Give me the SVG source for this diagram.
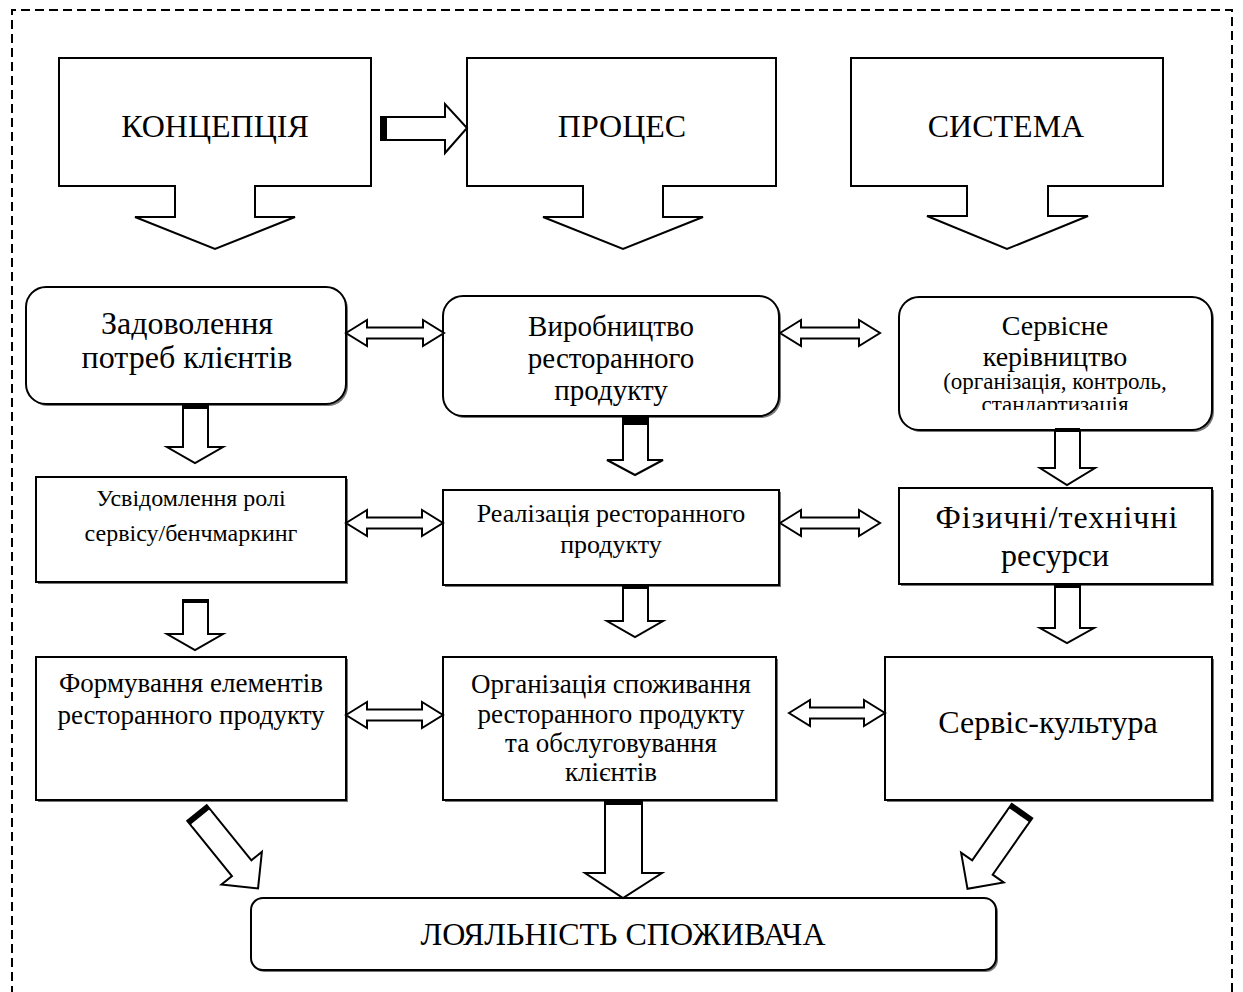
<svg xmlns="http://www.w3.org/2000/svg" width="1243" height="992" viewBox="0 0 1243 992">
<style>
  .t{font-family:"Liberation Serif","Times New Roman",serif;fill:#000;text-anchor:middle}
  .big{font-size:32px}
  .r1{font-size:29px}
  .m{font-size:32px}
  .sv{font-size:28px}
  .sv2{font-size:23px}
  .s{font-size:24px}
  .s3{font-size:26px}
  .s2{font-size:27px}
  .box{fill:#fff;stroke:#000;stroke-width:2}
  .sh{fill:#777;stroke:none}
  .arr{fill:#fff;stroke:#000;stroke-width:2;stroke-linejoin:miter}
  .bar{fill:#000}
  .wl{stroke:#fff;stroke-width:1.2}
</style>
<defs>
  <clipPath id="cpServ"><rect x="900" y="298" width="310" height="112"/></clipPath>
</defs>
<rect x="0" y="0" width="1243" height="992" fill="#fff"/>
<path d="M12,995 V10 H1232 V995" fill="none" stroke="#000" stroke-width="2" stroke-dasharray="9,5"/>

<g id="koncepcia">
  <path class="box" d="M59,58 H371 V186 H255 V217 H295 L215,249 L135,217 H175 V186 H59 Z"/>
  <text class="t big" x="215" y="137">КОНЦЕПЦІЯ</text>
</g>
<g id="proces">
  <path class="box" d="M467,58 H776 V186 H663 V217 H703 L623,249 L543,217 H583 V186 H467 Z"/>
  <text class="t big" x="622" y="137">ПРОЦЕС</text>
</g>
<g id="systema">
  <path class="box" d="M851,58 H1163 V186 H1048 V216 H1088 L1007,249 L927,216 H967 V186 H851 Z"/>
  <text class="t big" x="1006" y="137">СИСТЕМА</text>
</g>

<g id="n-zadovolennia">
  <rect class="sh" x="28" y="289" width="320" height="117" rx="20"/>
  <rect class="box" x="26" y="287" width="320" height="117" rx="20"/>
  <text class="t m" x="187" y="334">Задоволення</text>
  <text class="t m" x="187" y="368">потреб клієнтів</text>
</g>
<g id="n-vyrobnytstvo">
  <rect class="sh" x="445" y="298" width="336" height="120" rx="20"/>
  <rect class="box" x="443" y="296" width="336" height="120" rx="20"/>
  <text class="t r1" x="611" y="336">Виробництво</text>
  <text class="t r1" x="611" y="368">ресторанного</text>
  <text class="t r1" x="611" y="400">продукту</text>
</g>
<g id="n-servisne">
  <rect class="sh" x="901" y="299" width="313" height="133" rx="20"/>
  <rect class="box" x="899" y="297" width="313" height="133" rx="20"/>
  <text class="t sv" x="1055" y="335">Сервісне</text>
  <text class="t sv" x="1055" y="366">керівництво</text>
  <text class="t sv2" x="1055" y="389">(організація, контроль,</text>
  <text class="t sv2" x="1055" y="412" clip-path="url(#cpServ)">стандартизація</text>
</g>

<g id="n-usvidomlennia">
  <rect class="sh" x="38" y="479" width="310" height="105"/>
  <rect class="box" x="36" y="477" width="310" height="105"/>
  <text class="t s" x="191" y="506">Усвідомлення ролі</text>
  <text class="t s" x="191" y="541">сервісу/бенчмаркинг</text>
</g>
<g id="n-realizatsia">
  <rect class="sh" x="445" y="492" width="336" height="95"/>
  <rect class="box" x="443" y="490" width="336" height="95"/>
  <text class="t s3" x="611" y="522">Реалізація ресторанного</text>
  <text class="t s3" x="611" y="553">продукту</text>
</g>
<g id="n-fizychni">
  <rect class="sh" x="901" y="490" width="313" height="96"/>
  <rect class="box" x="899" y="488" width="313" height="96"/>
  <text class="t m" x="1057" y="528" letter-spacing="1">Фізичні/технічні</text>
  <text class="t m" x="1055" y="566">ресурси</text>
</g>

<g id="n-formuvannia">
  <rect class="sh" x="38" y="659" width="310" height="143"/>
  <rect class="box" x="36" y="657" width="310" height="143"/>
  <text class="t s2" x="191" y="692">Формування елементів</text>
  <text class="t s2" x="191" y="724">ресторанного продукту</text>
</g>
<g id="n-organizatsia">
  <rect class="sh" x="445" y="659" width="333" height="143"/>
  <rect class="box" x="443" y="657" width="333" height="143"/>
  <text class="t s2" x="611" y="693">Організація споживання</text>
  <text class="t s2" x="611" y="723">ресторанного продукту</text>
  <text class="t s2" x="611" y="752">та обслуговування</text>
  <text class="t s2" x="611" y="781">клієнтів</text>
</g>
<g id="n-servis-kultura">
  <rect class="sh" x="887" y="659" width="327" height="143"/>
  <rect class="box" x="885" y="657" width="327" height="143"/>
  <text class="t m" x="1048" y="733">Сервіс-культура</text>
</g>

<g id="n-loyalnist">
  <rect class="sh" x="253" y="900" width="745" height="72" rx="12"/>
  <rect class="box" x="251" y="898" width="745" height="72" rx="12"/>
  <text class="t big" x="623" y="945" font-size="33">ЛОЯЛЬНІСТЬ СПОЖИВАЧА</text>
</g>

<g id="connectors">
  <polygon class="arr" points="381,117 445,117 445,104 467,128 445,153 445,140 381,140"/>
  <rect class="bar" x="381" y="116" width="6" height="25"/>

  <polygon class="arr" points="346,333 367,320 367,327.5 423,327.5 423,320 444,333 423,346 423,338.5 367,338.5 367,346"/>
  <polygon class="arr" points="780,333 801,320 801,327.5 859,327.5 859,320 880,333 859,346 859,338.5 801,338.5 801,346"/>
  <polygon class="arr" points="346,523 367,510 367,517.5 422,517.5 422,510 443,523 422,536 422,528.5 367,528.5 367,536"/>
  <polygon class="arr" points="780,523 801,510 801,517.5 859,517.5 859,510 880,523 859,536 859,528.5 801,528.5 801,536"/>
  <polygon class="arr" points="346,715 367,702 367,709.5 422,709.5 422,702 443,715 422,728 422,720.5 367,720.5 367,728"/>
  <polygon class="arr" points="789,713 810,700 810,707.5 864,707.5 864,700 885,713 864,726 864,718.5 810,718.5 810,726"/>

  <polygon class="arr" points="183,404 208,404 208,447 223,447 195,463 167,447 183,447"/>
  <rect class="bar" x="183" y="404" width="25" height="5"/>
  <line class="wl" x1="184" y1="410.5" x2="207" y2="410.5"/>

  <polygon class="arr" points="623,416 648,416 648,460 663,460 635,475 607,460 623,460"/>
  <rect class="bar" x="623" y="416" width="25" height="9"/>

  <polygon class="arr" points="1055,430 1080,430 1080,468 1095,468 1067,485 1040,468 1055,468"/>
  <rect class="bar" x="1055" y="428" width="25" height="4"/>
  <line class="wl" x1="1056" y1="434" x2="1079" y2="434"/>

  <polygon class="arr" points="183,600 208,600 208,634 223,634 195,650 167,634 183,634"/>
  <rect class="bar" x="183" y="599" width="25" height="4"/>
  <line class="wl" x1="184" y1="605" x2="207" y2="605"/>

  <polygon class="arr" points="623,585 648,585 648,621 663,621 635,637 607,621 623,621"/>
  <rect class="bar" x="623" y="585" width="25" height="4"/>
  <line class="wl" x1="624" y1="591" x2="647" y2="591"/>

  <polygon class="arr" points="1055,584 1080,584 1080,628 1094,628 1067,643 1040,628 1055,628"/>
  <rect class="bar" x="1055" y="584" width="25" height="4"/>
  <line class="wl" x1="1056" y1="590" x2="1079" y2="590"/>

  <polygon class="arr" points="605,800 642,800 642,873 662,873 623,898 585,873 605,873"/>
  <rect class="bar" x="605" y="800" width="37" height="5"/>
  <line class="wl" x1="606" y1="807" x2="641" y2="807"/>

  <g transform="translate(197,813) rotate(-39)">
    <polygon class="arr" points="-12.5,0 12.5,0 12.5,71 26,71 0,97 -26,71 -12.5,71"/>
    <rect class="bar" x="-12.5" y="0" width="25" height="5"/>
    <line class="wl" x1="-11.5" y1="7" x2="11.5" y2="7"/>
  </g>
  <g transform="translate(1022,811) rotate(35)">
    <polygon class="arr" points="-12.5,0 12.5,0 12.5,69 26,69 0,95 -26,69 -12.5,69"/>
    <rect class="bar" x="-12.5" y="0" width="25" height="5"/>
    <line class="wl" x1="-11.5" y1="7" x2="11.5" y2="7"/>
  </g>
</g>
</svg>
